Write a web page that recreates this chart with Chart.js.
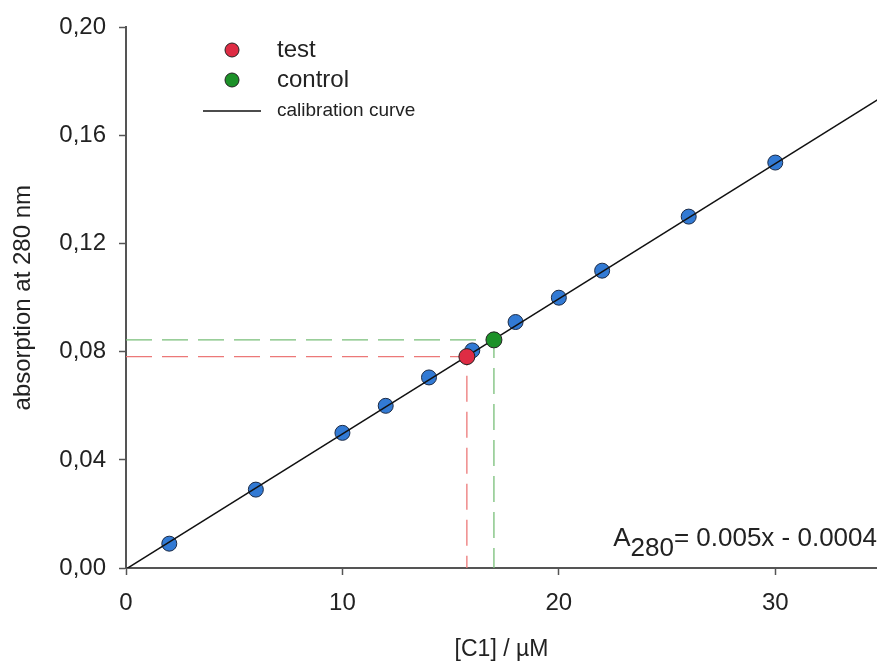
<!DOCTYPE html>
<html>
<head>
<meta charset="utf-8">
<script src="https://cdn.jsdelivr.net/npm/chart.js@4"></script>
<style>
  html, body { margin: 0; padding: 0; background: #fff; overflow: hidden; }
  #wrap { width: 877px; height: 664px; }
</style>
</head>
<body>
<div id="wrap"><canvas id="canvas" width="877" height="664"></canvas></div>
<script>
// calibration standards
const stdX = [2, 6, 10, 12, 14, 16, 18, 20, 22, 26, 30];
const stdY = [0.009, 0.029, 0.050, 0.060, 0.0705, 0.0805, 0.091, 0.100, 0.110, 0.130, 0.150];
// samples
const testX = [15.75];
const testY = [0.0782];
const controlX = [17.0];
const controlY = [0.0844];
// calibration curve end points (A280 = 0.005x - 0.0004)
const calX = [0, 35];
const calY = [-0.0004, 0.1746];
// tick labels
const xTicks = [0, 10, 20, 30];
const yTicks = [0, 0.04, 0.08, 0.12, 0.16, 0.20];

const axisColor = '#555';
const font = 'Liberation Sans, Arial, sans-serif';

function pts(xs, ys) {
    return xs.map((x, i) => ({ x: x, y: ys[i] }));
}
function guide(x, y) {
    return [{ x: 0, y: y }, { x: x, y: y }, { x: x, y: 0 }];
}

const legendPlugin = {
    id: 'legendAndEq',
    afterDraw(chart) {
        const ctx = chart.ctx;
        ctx.save();
        // legend
        const rows = [
            { type: 'dot', color: 'rgb(222,44,68)', label: 'test', y: 50, size: 24 },
            { type: 'dot', color: 'rgb(28,145,40)', label: 'control', y: 80, size: 24 },
            { type: 'line', color: '#111', label: 'calibration curve', y: 111, size: 19 }
        ];
        rows.forEach(r => {
            if (r.type === 'dot') {
                ctx.beginPath();
                ctx.arc(232, r.y, 7, 0, Math.PI * 2);
                ctx.fillStyle = r.color;
                ctx.fill();
                ctx.lineWidth = 1;
                ctx.strokeStyle = '#222';
                ctx.stroke();
            } else {
                ctx.beginPath();
                ctx.moveTo(203, r.y);
                ctx.lineTo(261, r.y);
                ctx.lineWidth = 1.5;
                ctx.strokeStyle = r.color;
                ctx.stroke();
            }
            ctx.fillStyle = '#222';
            ctx.font = r.size + 'px ' + font;
            ctx.textBaseline = 'middle';
            ctx.textAlign = 'left';
            ctx.fillText(r.label, 277, r.y);
        });
        // equation
        ctx.font = '26px ' + font;
        ctx.textBaseline = 'alphabetic';
        ctx.textAlign = 'left';
        const eq = '= 0.005x - 0.0004';
        const wEq = ctx.measureText(eq).width;
        const wSub = ctx.measureText('280').width;
        const wA = ctx.measureText('A').width;
        let x = 877 - wEq - wSub - wA;
        ctx.fillText('A', x, 546);
        ctx.fillText('280', x + wA, 556);
        ctx.fillText(eq, x + wA + wSub, 546);
        ctx.restore();
    }
};

const ctx = document.getElementById('canvas').getContext('2d');
const chart = new Chart(ctx, {
    type: 'scatter',
    data: {
        datasets: [
            {
                label: 'test',
                data: pts(testX, testY),
                backgroundColor: 'rgb(222,44,68)',
                borderColor: '#222',
                borderWidth: 1,
                pointRadius: 8,
                order: 0
            },
            {
                label: 'control',
                data: pts(controlX, controlY),
                backgroundColor: 'rgb(28,145,40)',
                borderColor: '#222',
                borderWidth: 1,
                pointRadius: 8,
                order: 0
            },
            {
                label: 'calibration curve',
                type: 'line',
                data: pts(calX, calY),
                borderColor: '#111',
                borderWidth: 1.5,
                pointRadius: 0,
                order: 1
            },
            {
                label: 'standards',
                data: pts(stdX, stdY),
                backgroundColor: 'rgb(50,122,212)',
                borderColor: '#1c2a44',
                borderWidth: 1,
                pointRadius: 7.5,
                order: 2
            },
            {
                label: 'test guide',
                type: 'line',
                data: guide(testX[0], testY[0]),
                borderColor: 'rgb(236,120,120)',
                borderWidth: 1.3,
                borderDash: [26, 10],
                pointRadius: 0,
                order: 3
            },
            {
                label: 'control guide',
                type: 'line',
                data: guide(controlX[0], controlY[0]),
                borderColor: 'rgb(120,190,120)',
                borderWidth: 1.3,
                borderDash: [26, 10],
                pointRadius: 0,
                order: 3
            }
        ]
    },
    options: {
        responsive: false,
        animation: false,
        events: [],
        layout: { autoPadding: false, padding: { left: 0, top: 23, right: 0, bottom: 0 } },
        plugins: {
            legend: { display: false },
            tooltip: { enabled: false }
        },
        scales: {
            x: {
                type: 'linear',
                min: 0,
                max: 34.7,
                afterFit(scale) {
                    scale.height = 96;
                    scale.paddingLeft = 0;
                    scale.paddingRight = 0;
                },
                afterBuildTicks(scale) { scale.ticks = xTicks.map(v => ({ value: v })); },
                grid: { drawOnChartArea: false, drawTicks: true, tickLength: 7, tickColor: axisColor, tickWidth: 1.5 },
                border: { color: axisColor, width: 2 },
                ticks: { color: '#222', padding: 14, font: { family: font, size: 24 } },
                title: { display: true, text: '[C1] / µM', color: '#222', padding: { top: 0, bottom: 1 }, font: { family: font, size: 23 } }
            },
            y: {
                type: 'linear',
                min: 0,
                max: 0.2,
                afterFit(scale) { scale.width = 126; },
                afterBuildTicks(scale) { scale.ticks = yTicks.map(v => ({ value: v })); },
                grid: { drawOnChartArea: false, drawTicks: true, tickLength: 7, tickColor: axisColor, tickWidth: 1.5 },
                border: { color: axisColor, width: 2 },
                ticks: {
                    color: '#222',
                    padding: 13,
                    font: { family: font, size: 24 },
                    callback: v => v.toFixed(2).replace('.', ',')
                },
                title: { display: true, text: 'absorption at 280 nm', color: '#222', padding: { top: 9, bottom: 0 }, font: { family: font, size: 24 } }
            }
        }
    },
    plugins: [legendPlugin]
});
</script>
</body>
</html>
